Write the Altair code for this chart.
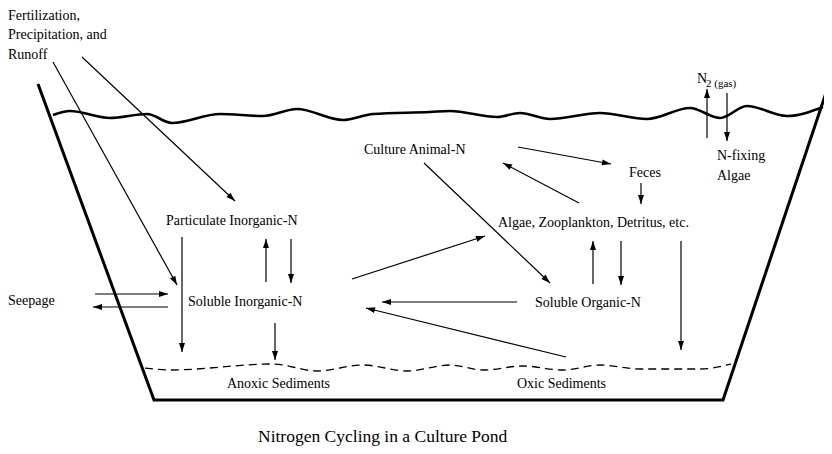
import math
import altair as alt
import pandas as pd

# ---------- data (picture coordinates) ----------
pond_x = [38, 154, 723, 836]
pond_y = [84, 400, 400, 63]

water_x = [53, 70, 110, 147, 172, 220, 263, 297, 343, 373, 430, 450, 497, 520, 550, 600, 647, 690, 720, 747, 787, 823]
water_y = [115, 111, 118, 114, 123, 114, 116, 109, 120, 114, 112, 111, 117, 113, 119, 113, 119, 108, 118, 106, 116, 107]

sed_x = [145, 170, 273, 317, 363, 407, 450, 483, 523, 563, 600, 640, 700, 731]
sed_y = [368, 370, 364, 371, 365, 371, 365, 370, 366, 370, 365, 369, 369, 364]

arrow_x1 = [53, 82, 182, 95, 168, 266, 291, 275, 352, 518, 579, 641, 424, 593, 621, 517, 566, 681, 707, 727]
arrow_y1 = [62, 57, 237, 294, 307, 282, 239, 323, 279, 147, 203, 183, 163, 284, 241, 302, 357, 241, 138, 93]
arrow_x2 = [177, 235, 182, 168, 93, 266, 291, 275, 485, 611, 503, 641, 550, 593, 621, 382, 366, 681, 707, 727]
arrow_y2 = [285, 201, 352, 294, 307, 239, 283, 360, 236, 164, 163, 204, 283, 241, 285, 302, 308, 350, 89, 141]

labels = ["Fertilization,", "Precipitation, and", "Runoff", "N", "2 (gas)", "N-fixing", "Algae",
          "Culture Animal-N", "Feces", "Algae, Zooplankton, Detritus, etc.", "Particulate Inorganic-N",
          "Seepage", "Soluble Inorganic-N", "Soluble Organic-N", "Anoxic Sediments", "Oxic Sediments",
          "Nitrogen Cycling in a Culture Pond"]
label_x = [8, 8, 8, 697, 706, 717, 717, 364, 629, 498, 166, 8, 188, 535, 227, 517, 258]
label_y = [20, 39, 59, 83, 87, 160, 180, 154, 177, 227, 225, 305, 306, 307, 388, 388, 442]
label_size = [14, 14, 14, 14, 11, 14, 14, 14, 14, 14, 14, 14, 14, 14, 14, 14, 17.5]

# ---------- frames ----------
pond = pd.DataFrame({"x": pond_x, "y": pond_y, "i": list(range(len(pond_x)))})
water = pd.DataFrame({"x": water_x, "y": water_y})
sed = pd.DataFrame({"x": sed_x, "y": sed_y})
arrows = pd.DataFrame({"x": arrow_x1, "y": arrow_y1, "x2": arrow_x2, "y2": arrow_y2})
arrows["angle"] = [
    (math.degrees(math.atan2(x2 - x1, -(y2 - y1))) + 360) % 360
    for x1, y1, x2, y2 in zip(arrow_x1, arrow_y1, arrow_x2, arrow_y2)
]
texts = pd.DataFrame({"t": labels, "x": label_x, "y": label_y, "s": label_size})

xs = alt.Scale(domain=[8, 824], nice=False, zero=False)
ys = alt.Scale(domain=[8, 446], nice=False, zero=False, reverse=True)
X = lambda f="x": alt.X(f"{f}:Q", scale=xs, axis=None)
Y = lambda f="y": alt.Y(f"{f}:Q", scale=ys, axis=None)

pond_layer = alt.Chart(pond).mark_line(color="black", strokeWidth=3, strokeJoin="miter").encode(
    x=X(), y=Y(), order=alt.Order("i:Q"))

water_layer = alt.Chart(water).mark_line(color="black", strokeWidth=2.6, interpolate="monotone").encode(
    x=X(), y=Y())

sed_layer = alt.Chart(sed).mark_line(color="black", strokeWidth=1.3, strokeDash=[8, 5],
                                     interpolate="monotone").encode(x=X(), y=Y())

rule_layer = alt.Chart(arrows).mark_rule(color="black", strokeWidth=1.2).encode(
    x=X(), y=Y(), x2="x2:Q", y2="y2:Q")

head_layer = alt.Chart(arrows).mark_point(
    shape="M0,0L-0.667,2L0.667,2Z", filled=True, color="black", size=81, opacity=1, strokeWidth=0
).encode(x=X("x2"), y=Y("y2"), angle=alt.Angle("angle:Q", scale=None))

text_layer = alt.Chart(texts).mark_text(
    align="left", baseline="alphabetic", font="Liberation Serif", color="black"
).encode(x=X(), y=Y(), text="t:N", size=alt.Size("s:Q", scale=None))

chart = alt.layer(pond_layer, water_layer, sed_layer, rule_layer, head_layer, text_layer).properties(
    width=816, height=438, padding=0, autosize=alt.AutoSizeParams(type="none"),
    background="white"
).configure_view(stroke=None)

chart.save("out.html", embed_options={"renderer": "svg", "actions": False})
